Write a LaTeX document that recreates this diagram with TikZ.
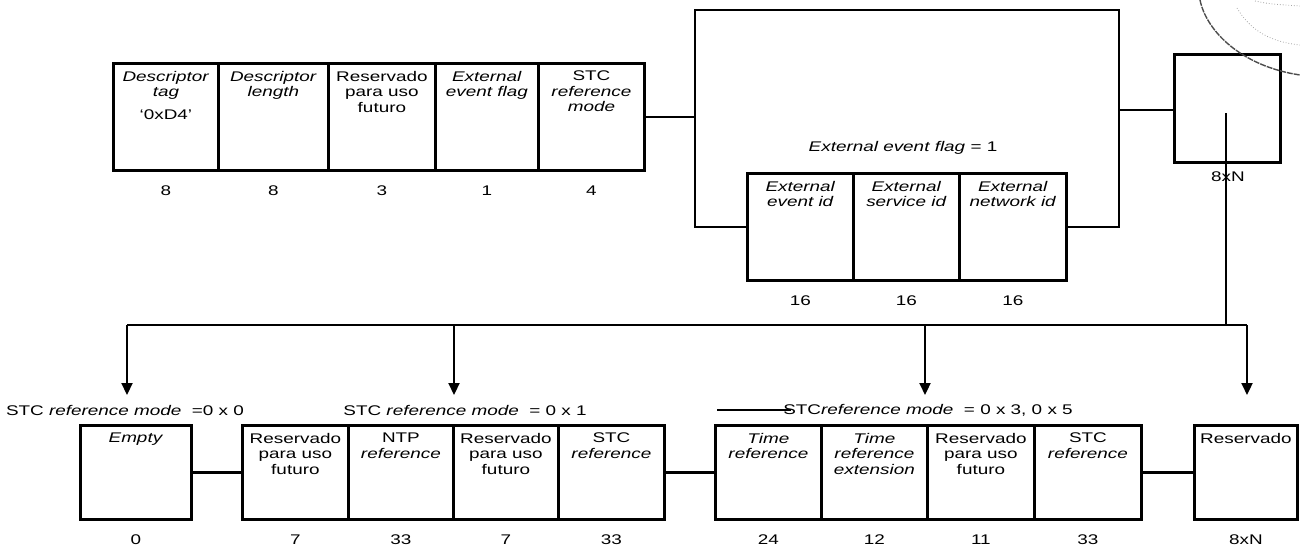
\documentclass[tikz,border=0pt]{standalone}
\usepackage{fontspec}
\setmainfont{Liberation Sans}[FakeStretch=1.35]
\usetikzlibrary{arrows.meta}
\begin{document}
\begin{tikzpicture}[x=1pt,y=-1pt,
  topcell/.style={draw, line width=2.8pt, inner sep=0pt, anchor=north west, minimum height=107pt},
  botcell/.style={draw, line width=2.8pt, inner sep=0pt, anchor=north west, minimum height=94pt},
  txt/.style={align=center, anchor=north, inner sep=0pt, font=\fontsize{14}{15.5}\selectfont},
  num/.style={inner sep=0pt, font=\fontsize{14}{15.5}\selectfont},
  lbl/.style={inner sep=0pt, font=\fontsize{14}{15.5}\selectfont},
  conn/.style={line width=2.2pt},
  arr/.style={line width=2.2pt, -{Triangle[length=12pt,width=11pt]}},
  stamp/.style={gray!70, line width=0.8pt, dotted}]
\useasboundingbox (0,0) rectangle (1300,546);

% ---------- top row ----------
\node[topcell, minimum width=105pt] (t1) at (112,62) {};
\node[topcell, minimum width=110pt] (t2) at (217,62) {};
\node[topcell, minimum width=107pt] (t3) at (327,62) {};
\node[topcell, minimum width=103pt] (t4) at (434,62) {};
\node[topcell, minimum width=106pt] (t5) at (537,62) {};
\node[txt] (t1a) at ([yshift=-9pt]t1.north) {\textit{Descriptor}\\\textit{tag}};
\node[txt] (t1b) at ([yshift=-48pt]t1.north) {`0xD4'};
\node[txt] (t2a) at ([yshift=-9pt]t2.north) {\textit{Descriptor}\\\textit{length}};
\node[txt] (t3a) at ([yshift=-9pt]t3.north) {Reservado\\para uso\\futuro};
\node[txt] (t4a) at ([yshift=-9pt]t4.north) {\textit{External}\\\textit{event flag}};
\node[txt] (t5a) at ([yshift=-9pt]t5.north) {STC\\\textit{reference}\\\textit{mode}};
\foreach \n/\v in {t1/8,t2/8,t3/3,t4/1,t5/4}
  \node[num] (\n n) at ([yshift=-19pt]\n.south) {\v};

% ---------- external ids ----------
\node[lbl] (flag) at (903,148) {\textit{External event flag} = 1};
\node[topcell, minimum width=106pt] (e1) at (746,172) {};
\node[topcell, minimum width=106pt] (e2) at (852,172) {};
\node[topcell, minimum width=107pt] (e3) at (958,172) {};
\node[txt] (e1a) at ([yshift=-9pt]e1.north) {\textit{External}\\\textit{event id}};
\node[txt] (e2a) at ([yshift=-9pt]e2.north) {\textit{External}\\\textit{service id}};
\node[txt] (e3a) at ([yshift=-9pt]e3.north) {\textit{External}\\\textit{network id}};
\foreach \n in {e1,e2,e3}
  \node[num] (\n n) at ([yshift=-19pt]\n.south) {16};

% bracket
\coordinate (bl) at (695,115.5);
\coordinate (blt) at (695,10);
\coordinate (brt) at (1119,10);
\coordinate (br) at (1119,110);
\draw[conn] (t5.east) -- (t5.east -| bl);
\draw[conn] (e1.west) -| (blt) -- (brt) |- (e3.east);

% 8xN box
\node[topcell, minimum width=106pt, minimum height=108pt] (r8) at (1173,53) {};
\draw[conn] (br) -- (br -| r8.west);
\coordinate (vtop) at (1226,113);
\coordinate (vbot) at (1226,325);
\node[num] (r8n) at (1228,177) {8xN};
\draw[conn] (vtop) -- (vbot);

% ---------- bus ----------
\coordinate (j0) at (127,325);
\coordinate (j1) at (454,325);
\coordinate (j2) at (925,325);
\coordinate (j3) at (1247,325);
\coordinate (a0) at (127,395);
\coordinate (a1) at (454,395);
\coordinate (a2) at (925,395);
\coordinate (a3) at (1247,395);
\draw[conn] (j0) -- (j3);
\draw[arr] (j0) -- (a0);
\draw[arr] (j1) -- (a1);
\draw[arr] (j2) -- (a2);
\draw[arr] (j3) -- (a3);

\node[lbl] (m0) at (125,410) {STC \textit{reference mode} \ =0 x 0};
\node[lbl] (m1) at (465,410) {STC \textit{reference mode} \ = 0 x 1};
\node[lbl] (m3) at (928,410) {STC\textit{reference mode} \ = 0 x 3, 0 x 5};
\coordinate (ln) at (717,408);
\draw[line width=1.4pt] (m3.west -| ln) -- ([xshift=8pt]m3.west);

% ---------- bottom row ----------
\node[botcell, minimum width=111pt] (b0) at (79,424) {};
\node[txt] (b0a) at ([yshift=-9pt]b0.north) {\textit{Empty}};

\node[botcell, minimum width=106pt] (g1) at (241,424) {};
\node[botcell, minimum width=105pt] (g2) at (347,424) {};
\node[botcell, minimum width=105pt] (g3) at (452,424) {};
\node[botcell, minimum width=106pt] (g4) at (557,424) {};
\node[txt] (g1a) at ([yshift=-9pt]g1.north) {Reservado\\para uso\\futuro};
\node[txt] (g2a) at ([yshift=-9pt]g2.north) {NTP\\\textit{reference}};
\node[txt] (g3a) at ([yshift=-9pt]g3.north) {Reservado\\para uso\\futuro};
\node[txt] (g4a) at ([yshift=-9pt]g4.north) {STC\\\textit{reference}};

\node[botcell, minimum width=106pt] (h1) at (714,424) {};
\node[botcell, minimum width=106pt] (h2) at (820,424) {};
\node[botcell, minimum width=107pt] (h3) at (926,424) {};
\node[botcell, minimum width=107pt] (h4) at (1033,424) {};
\node[txt] (h1a) at ([yshift=-9pt]h1.north) {\textit{Time}\\\textit{reference}};
\node[txt] (h2a) at ([yshift=-9pt]h2.north) {\textit{Time}\\\textit{reference}\\\textit{extension}};
\node[txt] (h3a) at ([yshift=-9pt]h3.north) {Reservado\\para uso\\futuro};
\node[txt] (h4a) at ([yshift=-9pt]h4.north) {STC\\\textit{reference}};

\node[botcell, minimum width=103pt] (rs) at (1193,424) {};
\node[txt] (rsa) at ([yshift=-9pt]rs.north) {Reservado};

\draw[conn] (b0.east) -- (g1.west);
\draw[conn] (g4.east) -- (h1.west);
\draw[conn] (h4.east) -- (rs.west);

\foreach \n/\v in {b0/0,g1/7,g2/33,g3/7,g4/33,h1/24,h2/12,h3/11,h4/33,rs/8xN}
  \node[num] (\n n) at ([yshift=-19pt]\n.south) {\v};

% ---------- stamp fragment ----------
\draw[gray!60!black, line width=1.4pt, dash pattern=on 6pt off 1pt] (1200,0) .. controls (1206,30) and (1240,66) .. (1300,75);
\draw[stamp] (1237,8) .. controls (1250,30) and (1270,42) .. (1300,45);
\draw[stamp] (1255,1) .. controls (1270,4) .. (1300,6);
\end{tikzpicture}
\end{document}
